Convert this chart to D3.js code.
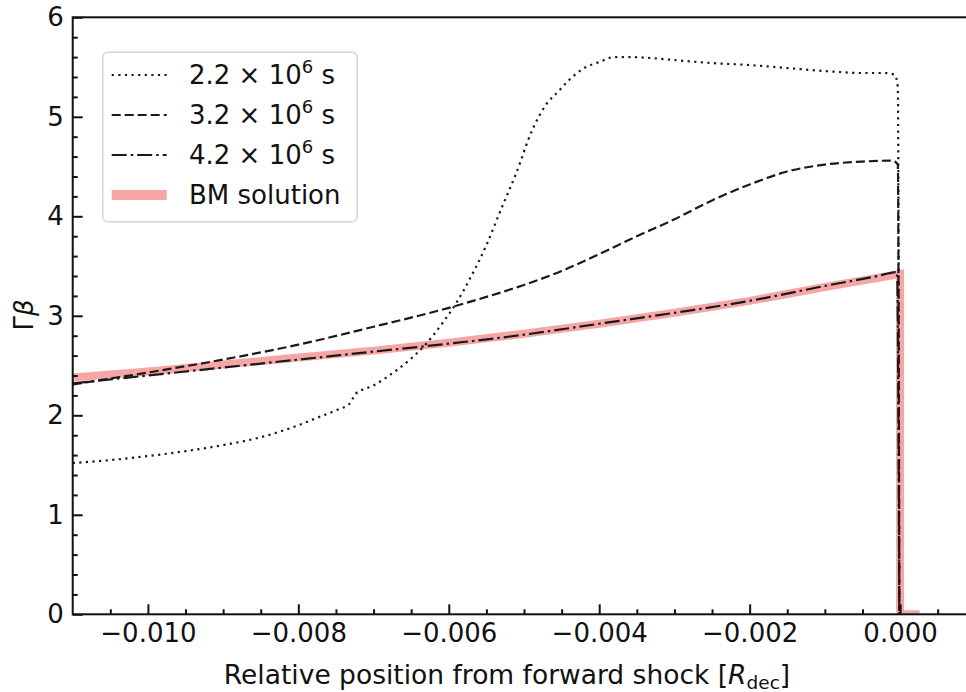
<!DOCTYPE html>
<html>
<head>
<meta charset="utf-8">
<script src="https://d3js.org/d3.v7.min.js"></script>
<style>
  body { margin: 0; background: #fff; }
  svg { display: block; font-family: "DejaVu Sans", sans-serif; }
</style>
</head>
<body>
<div id="chart"></div>
<script>
// Gamma*beta profiles behind the forward shock
const xTicks = [-0.010, -0.008, -0.006, -0.004, -0.002, 0.000];
const yTicks = [0, 1, 2, 3, 4, 5, 6];

// t = 2.2e6 s (dotted)
const x22 = [-0.011, -0.0105, -0.0100, -0.0095, -0.0090, -0.0085, -0.0080, -0.0077, -0.0075,
  -0.0073, -0.00725, -0.0070, -0.0067, -0.0065, -0.0063, -0.0061, -0.0059, -0.0057, -0.0055,
  -0.0053, -0.0051, -0.0049, -0.0047, -0.00455, -0.0044, -0.0042, -0.0040, -0.0038, -0.0036,
  -0.0033, -0.0030, -0.0025, -0.0020, -0.0015, -0.0010, -0.0005, -0.0002, -0.00007, -0.00003, -0.00001];
const y22 = [1.52, 1.55, 1.59, 1.64, 1.70, 1.78, 1.90, 1.99, 2.05,
  2.13, 2.21, 2.30, 2.45, 2.57, 2.72, 2.91, 3.13, 3.40, 3.71,
  4.08, 4.44, 4.85, 5.13, 5.25, 5.37, 5.49, 5.55, 5.60, 5.60,
  5.59, 5.57, 5.54, 5.52, 5.49, 5.46, 5.44, 5.44, 5.42, 5.30, 0];

// t = 3.2e6 s (dashed)
const x32 = [-0.011, -0.010, -0.009, -0.008, -0.007, -0.006, -0.0055, -0.005, -0.0045, -0.004,
  -0.0035, -0.003, -0.0025, -0.002, -0.0015, -0.001, -0.0005, -0.0001, -0.00003, -0.00001];
const y32 = [2.31, 2.43, 2.56, 2.71, 2.89, 3.08, 3.19, 3.31, 3.45, 3.62,
  3.80, 3.97, 4.16, 4.32, 4.45, 4.52, 4.55, 4.56, 4.52, 0];

// t = 4.2e6 s (dash-dot)
const x42 = [-0.011, -0.010, -0.009, -0.008, -0.007, -0.006, -0.005, -0.004, -0.003, -0.002,
  -0.001, -0.0003, -0.00004, -0.00001];
const y42 = [2.32, 2.40, 2.48, 2.56, 2.64, 2.72, 2.81, 2.92, 3.03, 3.15,
  3.30, 3.40, 3.44, 0];

// Blandford-McKee solution
const xBM = [-0.011, -0.010, -0.009, -0.008, -0.007, -0.006, -0.005, -0.004, -0.003, -0.002,
  -0.001, 0, 0, 0.00026];
const yBM = [2.38, 2.44, 2.51, 2.58, 2.65, 2.73, 2.82, 2.92, 3.03, 3.15,
  3.29, 3.42, 0, 0];

const W = 966, H = 692;
const margin = { top: 17.3, right: -9.3, bottom: 77.7, left: 72.7 };
const width = W - margin.left - margin.right;
const height = H - margin.top - margin.bottom;

const svg = d3.select("#chart").append("svg")
  .attr("width", W)
  .attr("height", H);

const x = d3.scaleLinear().domain([-0.011, 0.001]).range([0, width]);
const y = d3.scaleLinear().domain([0, 6]).range([height, 0]);

const g = svg.append("g")
  .attr("transform", `translate(${margin.left},${margin.top})`);

g.append("clipPath").attr("id", "clip")
  .append("rect").attr("width", width).attr("height", height);

const pts = (xs, ys) => xs.map((v, i) => [v, ys[i]]);
const line = d3.line().x(d => x(d[0])).y(d => y(d[1]));
const smooth = d3.line().x(d => x(d[0])).y(d => y(d[1])).curve(d3.curveMonotoneX);

const plot = g.append("g").attr("clip-path", "url(#clip)");

plot.append("path")
  .attr("d", line(pts(xBM, yBM)))
  .attr("fill", "none")
  .attr("stroke", "#f7a6a6")
  .attr("stroke-width", 8);

const series = [
  { xs: x22, ys: y22, dash: "2.2,4.4" },
  { xs: x32, ys: y32, dash: "9,4" },
  { xs: x42, ys: y42, dash: "15,4,2.5,4" }
];

series.forEach(s => {
  plot.append("path")
    .attr("d", smooth(pts(s.xs, s.ys)))
    .attr("fill", "none")
    .attr("stroke", "#1a1a1a")
    .attr("stroke-width", 2.2)
    .attr("stroke-dasharray", s.dash);
});

// axes, ticks pointing inwards
const minorX = d3.range(-0.0105, 0.001, 0.0005).filter(v => Math.abs(Math.round(v / 0.002) * 0.002 - v) > 1e-6);
const minorY = d3.range(0.2, 6, 0.2).filter(v => Math.abs(Math.round(v) - v) > 1e-6);

g.append("g")
  .attr("transform", `translate(0,${height})`)
  .call(d3.axisBottom(x).tickValues(xTicks).tickSize(-10).tickSizeOuter(0)
    .tickPadding(9).tickFormat(d3.format(".3f")));
g.append("g")
  .attr("transform", `translate(0,${height})`)
  .call(d3.axisBottom(x).tickValues(minorX).tickSize(-5).tickFormat(""));

g.append("g")
  .call(d3.axisLeft(y).tickValues(yTicks).tickSize(-10).tickSizeOuter(0)
    .tickPadding(9).tickFormat(d3.format("d")));
g.append("g")
  .call(d3.axisLeft(y).tickValues(minorY).tickSize(-5).tickFormat(""));

g.selectAll(".domain").remove();
g.selectAll(".tick line").attr("stroke", "#111").attr("stroke-width", 2);
g.selectAll(".tick text").attr("fill", "#111").style("font-size", "26px")
  .style("font-family", "DejaVu Sans");

g.append("rect")
  .attr("width", width).attr("height", height)
  .attr("fill", "none").attr("stroke", "#111").attr("stroke-width", 2);

// axis labels
const xl = svg.append("text")
  .attr("x", 507).attr("y", 684)
  .attr("text-anchor", "middle")
  .attr("fill", "#111")
  .style("font-size", "26.5px");
xl.append("tspan").text("Relative position from forward shock [");
xl.append("tspan").style("font-style", "italic").text("R");
xl.append("tspan").attr("dy", 5).style("font-size", "18.5px").text("dec");
xl.append("tspan").attr("dy", -5).text("]");

const yl = svg.append("text")
  .attr("transform", "translate(33,315) rotate(-90)")
  .attr("text-anchor", "middle")
  .attr("fill", "#111")
  .style("font-size", "26px");
yl.append("tspan").text("Γ");
yl.append("tspan").style("font-style", "italic").text("β");

// legend
const leg = svg.append("g");
leg.append("rect")
  .attr("x", 102.7).attr("y", 52.3)
  .attr("width", 254.6).attr("height", 169.4)
  .attr("rx", 5)
  .attr("fill", "#fff").attr("fill-opacity", 0.8)
  .attr("stroke", "#d6d6d6").attr("stroke-width", 1.5);

const legItems = [
  { mant: "2.2", dash: "2.2,4.4" },
  { mant: "3.2", dash: "9,4" },
  { mant: "4.2", dash: "15,4,2.5,4" }
];
legItems.forEach((d, i) => {
  const cy = 75 + i * 40;
  leg.append("line")
    .attr("x1", 111.7).attr("x2", 166.7).attr("y1", cy).attr("y2", cy)
    .attr("stroke", "#1a1a1a").attr("stroke-width", 2.2)
    .attr("stroke-dasharray", d.dash);
  const t = leg.append("text")
    .attr("x", 189).attr("y", cy + 9)
    .attr("fill", "#111")
    .style("font-size", "26px");
  t.append("tspan").text(d.mant + " × 10");
  t.append("tspan").attr("dy", -11).style("font-size", "18px").text("6");
  t.append("tspan").attr("dy", 11).text(" s");
});
leg.append("line")
  .attr("x1", 111.7).attr("x2", 166.7).attr("y1", 195).attr("y2", 195)
  .attr("stroke", "#f7a6a6").attr("stroke-width", 10);
leg.append("text")
  .attr("x", 189).attr("y", 204)
  .attr("fill", "#111")
  .style("font-size", "26px")
  .text("BM solution");
</script>
</body>
</html>
